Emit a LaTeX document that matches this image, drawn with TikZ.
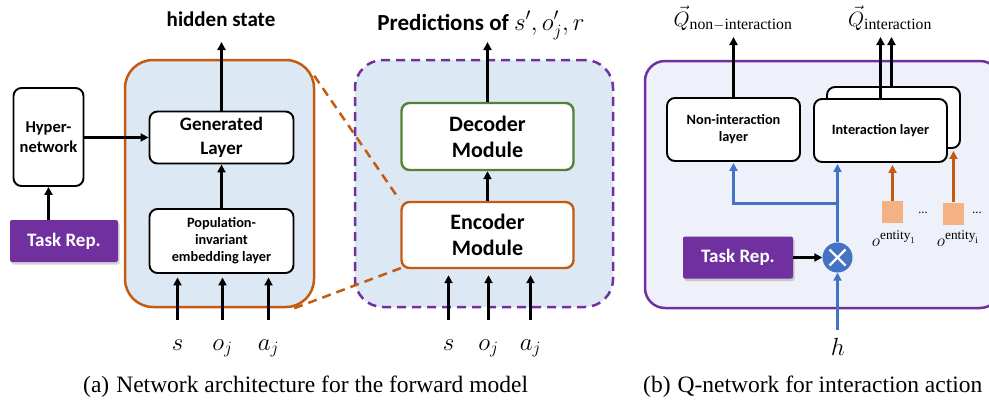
\documentclass[tikz,border=0pt]{standalone}
\usepackage{fontspec}
\setmainfont{Liberation Serif}
\newfontfamily\carlito{Carlito}
\usetikzlibrary{arrows.meta,shadows,calc}
\definecolor{myorange}{HTML}{C55A11}
\definecolor{lightblue}{HTML}{DDE8F5}
\definecolor{mypurple}{HTML}{7030A0}
\definecolor{mygreen}{HTML}{548235}
\definecolor{myblue}{HTML}{4472C4}
\definecolor{peach}{HTML}{F4B183}
\definecolor{lavender}{HTML}{EEF1F9}
\begin{document}
\begin{tikzpicture}[x=1pt,y=-1pt,
  blk/.style={draw=black, line width=1.9pt, rounded corners=8pt, fill=white, align=center, inner sep=0pt},
  arr/.style={-{Triangle[length=8pt,width=8pt]}, line width=2.6pt},
  barr/.style={arr, draw=myblue},
  oarr/.style={arr, draw=myorange},
  task/.style={fill=mypurple, text=white, rounded corners=2pt, inner sep=0pt,
    font=\carlito\bfseries\fontsize{19}{24}\selectfont,
    drop shadow={shadow xshift=1.5pt, shadow yshift=-2.5pt, opacity=0.35}},
  big/.style={rounded corners=28pt, line width=2.5pt},
  dashpat/.style={dash pattern=on 9pt off 6pt},
  mlbl/.style={anchor=base, inner sep=0pt, font=\fontsize{25}{28}\selectfont},
  sq/.style={fill=peach, minimum width=21pt, minimum height=22pt, inner sep=0pt},
]
\useasboundingbox (0,0) rectangle (989,402);

% ---------- panel (a) left ----------
\node[big, draw=myorange, fill=lightblue, minimum width=189pt, minimum height=247pt] (ob) at (219.5,183.5) {};
\node[blk, minimum width=70pt, minimum height=98pt, font=\carlito\bfseries\fontsize{16.5}{20}\selectfont] (hyper) at (48.5,137) {Hyper-\\network};
\node[task, minimum width=108pt, minimum height=42pt] (taskA) at (64,241) {Task Rep.};
\node[blk, minimum width=144pt, minimum height=52pt, font=\carlito\bfseries\fontsize{19}{24}\selectfont] (gen) at (221.5,137.5) {Generated\\Layer};
\node[blk, minimum width=144pt, minimum height=64pt, font=\carlito\bfseries\fontsize{14.3}{17}\selectfont] (pop) at (221.5,241) {Population-\\invariant\\embedding layer};
\draw[arr] (hyper.south |- taskA.north) -- (hyper.south);
\draw[arr] (hyper.east |- gen.west) -- (gen.west);
\draw[arr] (pop.north) -- (gen.south);
\node[anchor=base, inner sep=0pt, font=\carlito\bfseries\fontsize{21}{24}\selectfont] (hs) at (221,26) {hidden state};
\coordinate (hsin) at (221.5,42);
\draw[arr] (gen.north) -- (hsin);
\foreach \x/\n/\t in {177.5/a1/{s},222.5/a2/{o_j},268.5/a3/{a_j}}{
  \node[mlbl] (\n) at (\x,350) {$\t$};
  \coordinate (\n in) at (\x,320);
  \draw[arr, shorten >=3.5pt] (\n in) -- (\n in |- pop.south);
}

% ---------- panel (a) right ----------
\node[big, draw=mypurple, dashpat, fill=lightblue, minimum width=258pt, minimum height=247pt] (db) at (484,183.5) {};
\draw[myorange, line width=2.5pt, dashpat, shorten >=3pt] ($(ob.north east)+(-1,17)$) -- (401,202) coordinate (encnw);
\draw[myorange, line width=2.5pt, dashpat] ($(ob.south east)+(-21,0)$) -- (401,268) coordinate (encsw);
\node[blk, draw=mygreen, line width=2.4pt, minimum width=172pt, minimum height=67pt, font=\carlito\bfseries\fontsize{22}{26}\selectfont] (dec) at (487.5,136.5) {Decoder\\Module};
\node[blk, draw=myorange, line width=2.4pt, minimum width=172pt, minimum height=66pt, font=\carlito\bfseries\fontsize{22}{26}\selectfont] (enc) at (487.5,235) {Encoder\\Module};
\draw[arr] (enc.north) -- (dec.south);
\node[anchor=base, inner sep=0pt, font=\carlito\bfseries\fontsize{23}{26}\selectfont] (pred) at (481,30) {Predictions of \fontsize{25}{28}\selectfont$s', o'_j, r$};
\coordinate (predin) at (487.5,42);
\draw[arr] (dec.north) -- (predin);
\foreach \x/\n/\t in {448.5/b1/{s},488.5/b2/{o_j},530.5/b3/{a_j}}{
  \node[mlbl] (\n) at (\x,350) {$\t$};
  \coordinate (\n in) at (\x,320);
  \draw[arr, shorten >=6pt] (\n in) -- (\n in |- enc.south);
}

% ---------- panel (b) ----------
\node[rounded corners=20pt, line width=2.5pt, draw=mypurple, fill=lavender, minimum width=355pt, minimum height=247pt] (rb) at (822.5,184.5) {};
\node[blk, minimum width=133pt, minimum height=63pt, font=\carlito\bfseries\fontsize{14.3}{17}\selectfont] (nonint) at (733.5,129.5) {Non-interaction\\layer};
\node[blk, minimum width=133pt, minimum height=61pt] (intback) at (893.5,117.5) {};
\node[blk, minimum width=133pt, minimum height=63pt, font=\carlito\bfseries\fontsize{14.3}{17}\selectfont] (intfront) at (880.5,130.5) {Interaction layer};
\node[anchor=base, inner sep=0pt, font=\fontsize{22.5}{26}\selectfont] (qn) at (733,26) {$\vec{Q}_{\mathrm{non-interaction}}$};
\node[anchor=base, inner sep=0pt, font=\fontsize{22.5}{26}\selectfont] (qi) at (890,26) {$\vec{Q}_{\mathrm{interaction}}$};
\coordinate (qnin) at (733.5,37);
\coordinate (qa) at (880.5,37);
\coordinate (qb) at (891.5,37);
\draw[arr] (nonint.north) -- (qnin);
\draw[arr] (intfront.north) -- (qa);
\draw[arr] (intback.north -| qb) -- (qb);

\node[task, minimum width=110pt, minimum height=42pt] (taskB) at (738,257.5) {Task Rep.};
\node[circle, fill=myblue, minimum size=30pt, inner sep=0pt] (mul) at (837.5,257.5) {};
\draw[white, line width=2.4pt] ($(mul.center)+(-8,-8)$) -- ($(mul.center)+(8,8)$);
\draw[white, line width=2.4pt] ($(mul.center)+(-8,8)$) -- ($(mul.center)+(8,-8)$);
\draw[arr] (taskB.east) -- (mul.west);
\draw[barr, shorten >=1pt] (mul.north) -- (mul.north |- intfront.south);
\coordinate (br) at (837.5,203.5);
\draw[barr, shorten >=1pt] (br) -| (nonint.south);
\node[mlbl] (h) at (838,355) {$h$};
\coordinate (hin) at (837.5,330);
\draw[barr] (hin) -- (mul.south);

\node[sq] (sq1) at (892.5,212) {};
\node[sq] (sq2) at (953.5,213.5) {};
\draw[oarr, shorten >=2pt] (sq1.north) -- (sq1.north |- intfront.south);
\draw[oarr, shorten >=2pt] (sq2.north) -- (sq2.north |- intback.south);
\node[inner sep=0pt, font=\carlito\fontsize{12}{14}\selectfont] (d1) at (923,213) {...};
\node[inner sep=0pt, font=\carlito\fontsize{12}{14}\selectfont] (d2) at (977,213) {...};
\node[anchor=base, inner sep=0pt, font=\fontsize{19}{22}\selectfont] (e1) at (894,246) {$o^{\mathrm{entity}_1}$};
\node[anchor=base, inner sep=0pt, font=\fontsize{19}{22}\selectfont] (e2) at (958,246) {$o^{\mathrm{entity}_\mathrm{i}}$};

% ---------- captions ----------
\node[anchor=base west, inner sep=0pt, font=\fontsize{23.5}{28}\selectfont] (capa) at (83,392) {(a)\hspace{0.3em}Network architecture for the forward model};
\node[anchor=base west, inner sep=0pt, font=\fontsize{23.5}{28}\selectfont] (capb) at (643,392) {(b)\hspace{0.3em}Q-network for interaction action};
\end{tikzpicture}
\end{document}
